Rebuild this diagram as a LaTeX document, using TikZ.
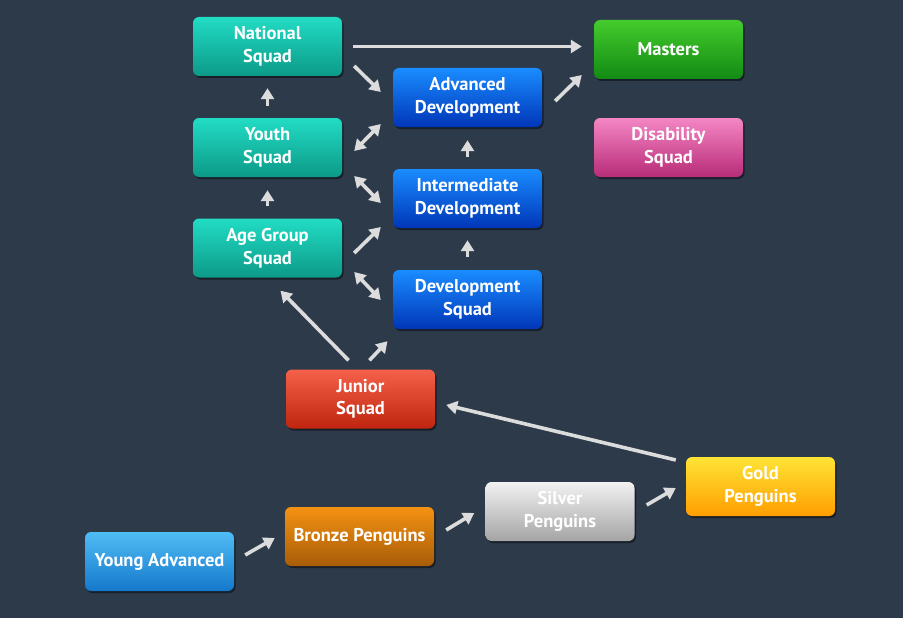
\documentclass[tikz,border=0pt]{standalone}
\usepackage{fontspec}
\setmainfont{PT Sans}
\usetikzlibrary{arrows.meta,shadows,calc}
\definecolor{bg}{HTML}{2C3A4A}
\definecolor{arrowc}{HTML}{DCDCDC}
\tikzset{
  box/.style={rounded corners=6pt, minimum width=149pt, minimum height=59pt,
    inner sep=0pt, align=center, text=white, font=\bfseries\fontsize{18.5}{22.5}\selectfont,
    drop shadow={shadow xshift=1.5pt, shadow yshift=-2pt, opacity=0.45, fill=black}},
  teal/.style={box, top color=teal1, bottom color=teal2},
  blue/.style={box, top color=blue1, bottom color=blue2},
  green/.style={box, top color=green1, bottom color=green2},
  pink/.style={box, top color=pink1, bottom color=pink2},
  red/.style={box, top color=red1, bottom color=red2},
  lblue/.style={box, top color=lblue1, bottom color=lblue2},
  bronze/.style={box, top color=bronze1, bottom color=bronze2},
  silver/.style={box, top color=silver1, bottom color=silver2},
  gold/.style={box, top color=gold1, bottom color=gold2},
  arr/.style={draw=arrowc, line width=3.6pt, -{Triangle[width=13pt,length=11pt]}, fill=arrowc},
  darr/.style={draw=arrowc, line width=3.6pt, {Triangle[width=13pt,length=11pt]}-{Triangle[width=13pt,length=11pt]}}
}
\definecolor{teal1}{HTML}{22DCC4}
\definecolor{teal2}{HTML}{0C9A88}
\definecolor{blue1}{HTML}{1A8CFF}
\definecolor{blue2}{HTML}{0036B8}
\definecolor{green1}{HTML}{44CC2C}
\definecolor{green2}{HTML}{128A14}
\definecolor{pink1}{HTML}{F486C4}
\definecolor{pink2}{HTML}{B82C78}
\definecolor{red1}{HTML}{F4604A}
\definecolor{red2}{HTML}{C0260E}
\definecolor{lblue1}{HTML}{50BCF4}
\definecolor{lblue2}{HTML}{1478CC}
\definecolor{bronze1}{HTML}{F49212}
\definecolor{bronze2}{HTML}{A85C08}
\definecolor{silver1}{HTML}{F2F2F2}
\definecolor{silver2}{HTML}{A4A4A4}
\definecolor{gold1}{HTML}{FFE436}
\definecolor{gold2}{HTML}{FF9E00}
\begin{document}
\begin{tikzpicture}[x=1pt,y=-1pt]
\fill[bg] (0,0) rectangle (903,618);
\useasboundingbox (0,0) rectangle (903,618);
\node[teal]   (national) at (267.5,46.5) {National\\Squad};
\node[teal]   (youth)    at (267.5,147.5) {Youth\\Squad};
\node[teal]   (age)      at (267.5,248) {Age Group\\Squad};
\node[blue]   (adv)      at (467.5,97.5) {Advanced\\Development};
\node[blue]   (inter)    at (467.5,198.5) {Intermediate\\Development};
\node[blue]   (dev)      at (467.5,299.5) {Development\\Squad};
\node[green]  (masters)  at (668.5,49.5) {Masters};
\node[pink]   (disab)    at (668.5,147.5) {Disability\\Squad};
\node[red]    (junior)   at (360.5,399) {Junior\\Squad};
\node[lblue]  (young)    at (159.5,561.5) {Young Advanced};
\node[bronze] (bronze)   at (359.5,536.5) {Bronze Penguins};
\node[silver] (silver)   at (560,511.5) {Silver\\Penguins};
\node[gold]   (gold)     at (760.5,486.5) {Gold\\Penguins};

\draw[arr] ([shift={(11,0)}]national.east) -- ([shift={(-12,-3)}]masters.west);
\draw[arr] ([shift={(12,19.5)}]national.east) -- ([shift={(-12,-5.5)}]adv.west);
\draw[arr] ([shift={(13,3.5)}]adv.east) -- ([shift={(-12,25.5)}]masters.west);
\draw[darr] ([shift={(12,3.5)}]youth.east) -- ([shift={(-12,26.5)}]adv.west);
\draw[darr] ([shift={(12,28.5)}]youth.east) -- ([shift={(-12,4.5)}]inter.west);
\draw[arr] ([shift={(12,5)}]age.east) -- ([shift={(-12,28.5)}]inter.west);
\draw[darr] ([shift={(12,24)}]age.east) -- ([shift={(-12,0.5)}]dev.west);
\draw[arr] ([shift={(0,-12)}]youth.north) -- ([shift={(0,12)}]national.south);
\draw[arr] ([shift={(0,-12)}]age.north) -- ([shift={(0,13)}]youth.south);
\draw[arr] ([shift={(0,-12)}]inter.north) -- ([shift={(0,13)}]adv.south);
\draw[arr] ([shift={(0,-13)}]dev.north) -- ([shift={(0,12)}]inter.south);
\draw[arr] ([shift={(-12,-9)}]junior.north) -- ([shift={(13,13)}]age.south);
\draw[arr] ([shift={(9,-9)}]junior.north) -- ([shift={(-80,12)}]dev.south);
\draw[arr] ([shift={(-10,-26.5)}]gold.west) -- ([shift={(11,6)}]junior.east);
\draw[arr] ([shift={(11,-6.5)}]young.east) -- ([shift={(-10,1.5)}]bronze.west);
\draw[arr] ([shift={(12,-6.5)}]bronze.east) -- ([shift={(-11,1.5)}]silver.west);
\draw[arr] ([shift={(12,-6.5)}]silver.east) -- ([shift={(-10,1.5)}]gold.west);
\end{tikzpicture}
\end{document}
